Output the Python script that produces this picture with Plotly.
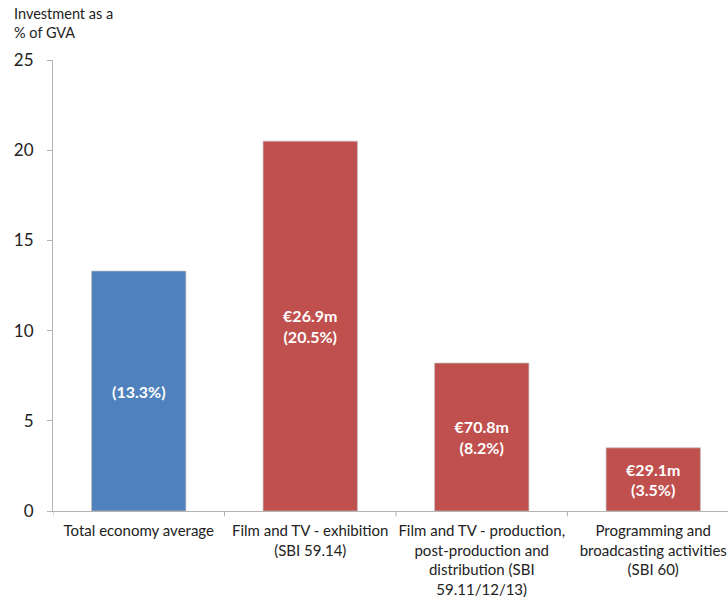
import plotly.graph_objects as go

# Categories, values and in-bar labels
categories = [
    "Total economy average",
    "Film and TV - exhibition<br>(SBI 59.14)",
    "Film and TV - production,<br>post-production and<br>distribution (SBI<br>59.11/12/13)",
    "Programming and<br>broadcasting activities<br>(SBI 60)",
]
investment_pct = [13.3, 20.5, 8.2, 3.5]
investment_eur = ["", "€26.9m", "€70.8m", "€29.1m"]
bar_colors = ["#4F81BD", "#C0504D", "#C0504D", "#C0504D"]

labels = [
    (f"{eur}<br>" if eur else "") + f"({pct}%)"
    for eur, pct in zip(investment_eur, investment_pct)
]

FONT = "Lato, 'Open Sans', sans-serif"
AXIS_GREY = "#b3b3b3"

fig = go.Figure(
    go.Bar(
        x=list(range(len(categories))),
        y=investment_pct,
        width=0.55,
        marker=dict(color=bar_colors, line=dict(color="rgba(190,190,190,0.7)", width=1)),
        text=labels,
        textposition="inside",
        insidetextanchor="middle",
        constraintext="none",
        textfont=dict(family=FONT, size=16, color="white", weight="bold"),
        hoverinfo="skip",
    )
)

fig.update_layout(
    width=728,
    height=601,
    margin=dict(l=53, r=0, t=60, b=90),
    paper_bgcolor="white",
    plot_bgcolor="white",
    showlegend=False,
    font=dict(family=FONT, color="#222222"),
)

fig.update_xaxes(
    tickmode="array",
    tickvals=list(range(len(categories))),
    ticktext=categories,
    range=[-0.5, 3.436],
    showline=True,
    linecolor=AXIS_GREY,
    linewidth=1,
    ticks="",
    ticklabelstandoff=6,
    showgrid=False,
    zeroline=False,
    tickfont=dict(family=FONT, size=15, color="#222222"),
)

# Tick marks on category boundaries
for b in [-0.5, 0.5, 1.5, 2.5]:
    fig.add_shape(
        type="line", xref="x", yref="paper",
        x0=b, x1=b, y0=0, y1=-0.012,
        line=dict(color=AXIS_GREY, width=1),
    )

fig.update_yaxes(
    range=[0, 25],
    tickvals=[0, 5, 10, 15, 20, 25],
    showline=True,
    linecolor=AXIS_GREY,
    linewidth=1,
    ticks="outside",
    ticklen=5,
    tickcolor=AXIS_GREY,
    ticklabelstandoff=10,
    showgrid=False,
    zeroline=False,
    tickfont=dict(family=FONT, size=17, color="#222222"),
)

fig.add_annotation(
    text="Investment as a<br>% of GVA",
    xref="paper", yref="paper",
    x=-53 / 675, y=1 + 57 / 451,
    xanchor="left", yanchor="top",
    align="left",
    showarrow=False,
    xshift=12,
    font=dict(family=FONT, size=14.5, color="#222222"),
)

fig.write_html("out.html")
